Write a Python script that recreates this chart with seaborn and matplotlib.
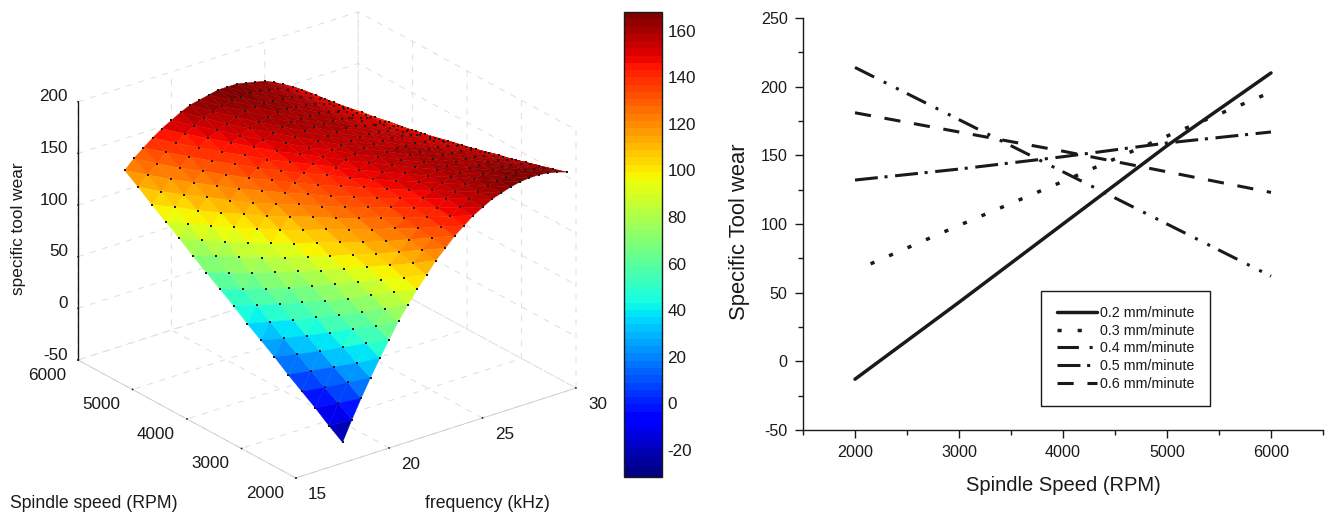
import numpy as np
import pandas as pd
import matplotlib
matplotlib.use("Agg")
import matplotlib.pyplot as plt
import matplotlib.tri as mtri
import seaborn as sns
from matplotlib.cm import ScalarMappable
from matplotlib.colors import Normalize
from mpl_toolkits.mplot3d import proj3d

# surface, one list per frequency, values from 2000 to 6000 RPM
frequency = [17.5, 18, 18.5, 19, 19.5, 20, 20.5, 21, 21.5, 22, 22.5, 23, 23.5,
             24, 24.5, 25, 25.5, 26, 26.5, 27, 27.5, 28, 28.5, 29, 29.5]
spindle = [2000, 2250, 2500, 2750, 3000, 3250, 3500, 3750, 4000,
           4250, 4500, 4750, 5000, 5250, 5500, 5750, 6000]
wear_by_freq = [
    [-30, -21, -11, -2, 7, 17, 26, 35, 45, 54, 63, 72, 82, 91, 100, 110, 119],
    [-11, -2, 6, 15, 24, 32, 41, 50, 58, 67, 76, 84, 93, 102, 110, 119, 128],
    [7, 15, 23, 31, 39, 47, 55, 63, 71, 79, 87, 95, 103, 111, 119, 127, 135],
    [24, 31, 39, 46, 54, 61, 68, 76, 83, 90, 98, 105, 113, 120, 127, 135, 142],
    [40, 47, 54, 60, 67, 74, 81, 87, 94, 101, 108, 114, 121, 128, 135, 141, 148],
    [55, 61, 67, 73, 80, 86, 92, 98, 104, 110, 116, 122, 129, 135, 141, 147, 153],
    [70, 75, 81, 86, 92, 97, 103, 108, 114, 119, 125, 130, 136, 141, 147, 152, 158],
    [83, 88, 93, 98, 103, 108, 113, 118, 123, 127, 132, 137, 142, 147, 152, 157, 162],
    [95, 99, 104, 108, 112, 117, 121, 125, 130, 134, 138, 142, 147, 151, 155, 160, 164],
    [106, 110, 114, 117, 121, 125, 129, 132, 136, 140, 144, 147, 151, 155, 159, 162, 166],
    [117, 120, 123, 127, 130, 133, 136, 139, 143, 146, 149, 152, 155, 158, 162, 165, 168],
    [126, 129, 131, 134, 137, 139, 142, 144, 147, 150, 152, 155, 158, 160, 163, 165, 168],
    [135, 137, 139, 141, 143, 145, 147, 149, 151, 154, 156, 158, 160, 162, 164, 166, 168],
    [142, 144, 145, 147, 148, 150, 151, 153, 154, 156, 157, 159, 160, 162, 163, 165, 166],
    [149, 150, 151, 152, 153, 154, 155, 156, 157, 157, 158, 159, 160, 161, 162, 163, 164],
    [154, 155, 155, 156, 156, 157, 157, 158, 158, 158, 159, 159, 160, 160, 161, 161, 162],
    [159, 159, 159, 159, 159, 159, 159, 159, 158, 158, 158, 158, 158, 158, 158, 158, 158],
    [162, 162, 161, 160, 160, 159, 159, 158, 158, 157, 156, 156, 155, 155, 154, 154, 153],
    [165, 164, 163, 162, 161, 160, 159, 158, 157, 155, 154, 153, 152, 151, 150, 149, 148],
    [167, 165, 164, 162, 161, 159, 158, 156, 155, 153, 151, 150, 148, 147, 145, 144, 142],
    [168, 166, 164, 162, 160, 158, 156, 154, 152, 149, 147, 145, 143, 141, 139, 137, 135],
    [168, 166, 163, 161, 158, 156, 153, 151, 148, 146, 143, 141, 138, 136, 133, 131, 128],
    [167, 164, 161, 158, 155, 152, 149, 146, 143, 140, 137, 134, 131, 128, 125, 122, 119],
    [165, 162, 158, 155, 151, 148, 144, 141, 138, 134, 131, 127, 124, 120, 117, 113, 110],
    [162, 158, 154, 150, 146, 143, 139, 135, 131, 127, 123, 119, 115, 112, 108, 104, 100],
]

# line chart
rpm = [2000, 3000, 4000, 5000, 6000]
wear_02 = [-13, 43, 100, 157, 210]
rpm_03 = [2150, 3000, 4000, 5000, 6000]
wear_03 = [71, 99, 131, 164, 196]
wear_04 = [214, 176, 138, 100, 62]
wear_05 = [132, 140, 149, 159, 167]
wear_06 = [181, 167, 153, 138, 123]

freq_ticks = [15, 20, 25, 30]
rpm_ticks = [2000, 3000, 4000, 5000, 6000]
wear_ticks = [-50, 0, 50, 100, 150, 200]
cbar_ticks = [-20, 0, 20, 40, 60, 80, 100, 120, 140, 160]

sns.set_theme(style="ticks", rc={"text.color": "k", "axes.labelcolor": "k",
                                 "xtick.color": "k", "ytick.color": "k",
                                 "axes.edgecolor": "k", "axes.unicode_minus": False})
plt.rcParams["font.family"] = ["Liberation Sans", "DejaVu Sans"]

W, H = 1333, 517
fig = plt.figure(figsize=(W / 100, H / 100), dpi=100)
jet = plt.get_cmap("jet", 64)
norm = Normalize(-31.6, 168)

# --- 3D surface ---
ax = fig.add_axes([0, 0, 500 / W, 500 / H], projection="3d", computed_zorder=False)
ax.set_proj_type("ortho")
ax.view_init(elev=24.65, azim=-127.6)
ax.set_box_aspect((353.5, 357, 284))
ax.set_xlim(15, 30, view_margin=0)
ax.set_ylim(2000, 6000, view_margin=0)
ax.set_zlim(-50, 200, view_margin=0)

F, R = np.meshgrid(frequency, spindle)
Z = np.array(wear_by_freq).T

# split each grid cell along the colour bands so the facets follow them
nr, nf = F.shape
tris = []
for i in range(nr - 1):
    for j in range(nf - 1):
        a, b = i * nf + j, i * nf + j + 1
        c, d = (i + 1) * nf + j, (i + 1) * nf + j + 1
        tris += [[a, b, c], [b, d, c]]
grid = mtri.Triangulation(F.ravel(), R.ravel(), tris)
surf = ax.plot_trisurf(grid, Z.ravel(), cmap=jet, norm=norm, shade=False,
                       linewidth=0.3, antialiased=True, zorder=3)
surf.set_edgecolor("face")
ax.scatter(F.ravel(), R.ravel(), Z.ravel(), s=1.0, c="k", marker="s", linewidths=0,
           depthshade=False, zorder=4)

ax.set_xticks(freq_ticks)
ax.set_yticks(rpm_ticks)
ax.set_zticks(wear_ticks)
ax.set_xticklabels([])
ax.set_yticklabels([])
ax.set_zticklabels([])
for a in (ax.xaxis, ax.yaxis, ax.zaxis):
    a.set_pane_color((1, 1, 1, 0))
    a.pane.set_edgecolor("none")
    a._axinfo["grid"].update(color="#dedede", linewidth=0.7, linestyle=(0, (6, 7)))
    a._axinfo["tick"].update(inward_factor=0.0, outward_factor=0.012)
ax.xaxis.line.set_color("#cccccc")
ax.yaxis.line.set_color("#cccccc")
ax.xaxis.line.set_linewidth(0.6)
ax.yaxis.line.set_linewidth(0.6)
ax.zaxis.line.set_color("k")
ax.zaxis.line.set_linewidth(1)

# mplot3d resets tick label transforms, so the labels are placed just off the box
for f in freq_ticks:
    ax.text(f, 1600, -55, str(f), fontsize=12.3, ha="center", va="center")
for r in rpm_ticks:
    ax.text(13.35, r, -55, str(r), fontsize=12.3, ha="center", va="center")
for z in wear_ticks:
    ax.text(14.66, 6068, z + 4.8, str(z), fontsize=12.3, ha="right", va="center")


def fit_box(ax, left_px, right_px, floor_y_px):
    # move the 3D axes so that the box corners land where they should
    for _ in range(3):
        ax.apply_aspect()
        xs, ys, _z = proj3d.proj_transform(np.array([15.0, 30.0]), np.array([6000.0, 2000.0]),
                                           np.array([-50.0, -50.0]), ax.get_proj())
        px = ax.transData.transform(np.c_[xs, ys])
        pos = ax.get_position(original=True)
        k = (right_px - left_px) / (px[1, 0] - px[0, 0])
        x0 = pos.x0 * W
        y0 = pos.y0 * H
        w = pos.width * W
        # scale about the axes centre, then shift
        cx, cy = x0 + w / 2, y0 + w / 2
        new_lx = cx + (px[0, 0] - cx) * k
        new_ly = cy + (px[0, 1] - cy) * k
        cx += left_px - new_lx
        cy += (H - floor_y_px) - new_ly
        w *= k
        ax.set_position([(cx - w / 2) / W, (cy - w / 2) / H, w / W, w / H])


fit_box(ax, 78, 576, 360)

fig.text(10 / W, 1 - 503 / H, "Spindle speed (RPM)", fontsize=12.7, va="center")
fig.text(425 / W, 1 - 503 / H, "frequency (kHz)", fontsize=12.7, va="center")
fig.text(19 / W, 1 - 229 / H, "specific tool wear", fontsize=12.4, rotation=90,
         ha="center", va="center")

# --- colour bar ---
cax = fig.add_axes([624 / W, 1 - 477 / H, 38 / W, 465 / H])
cbar = fig.colorbar(ScalarMappable(norm=norm, cmap=jet), cax=cax, ticks=cbar_ticks)
cbar.ax.tick_params(direction="in", left=True, right=True, length=4, width=1,
                    labelsize=12.3, pad=4)
cbar.ax.minorticks_off()
cbar.outline.set_edgecolor("k")
cbar.outline.set_linewidth(1)

# --- line chart ---
ax2 = fig.add_axes([803 / W, 1 - 430 / H, 520 / W, 412 / H])
series = [
    (rpm, wear_02, "0.2 mm/minute", "-", 2.5),
    (rpm_03, wear_03, "0.3 mm/minute", (0, (1.2, 4.6)), 2.5),
    (rpm, wear_04, "0.4 mm/minute", (0, (7, 3.5, 1, 3.5, 1, 3)), 2.2),
    (rpm, wear_05, "0.5 mm/minute", (0, (7.5, 2.2, 1, 2.5)), 2.2),
    (rpm, wear_06, "0.6 mm/minute", (0, (5.3, 4.5)), 2.2),
]
for xs, ys, name, style, lw in series:
    df = pd.DataFrame({"rpm": xs, "wear": ys})
    sns.lineplot(data=df, x="rpm", y="wear", ax=ax2, color="k", linewidth=lw,
                 linestyle=style, label=name, errorbar=None)

ax2.set_xlim(1500, 6500)
ax2.set_ylim(-50, 250)
ax2.set_xticks(rpm_ticks)
ax2.set_xticks([1500, 2500, 3500, 4500, 5500, 6500], minor=True)
ax2.set_yticks([-50, 0, 50, 100, 150, 200, 250])
ax2.set_yticks([-25, 25, 75, 125, 175, 225], minor=True)
ax2.tick_params(which="major", length=6, width=1, labelsize=11.6, pad=5)
ax2.tick_params(which="minor", length=3.5, width=1)
ax2.set_xlabel("Spindle Speed (RPM)", fontsize=14.5, labelpad=11)
ax2.set_ylabel("Specific Tool wear", fontsize=15.8)
ax2.yaxis.set_label_coords(-0.102, 0.482)
for side in ("top", "right"):
    ax2.spines[side].set_visible(False)
for side in ("left", "bottom"):
    ax2.spines[side].set_linewidth(1)

ax2.legend(loc="center", bbox_to_anchor=(0.621, 0.198), fontsize=10.3, frameon=True,
           fancybox=False, framealpha=1, edgecolor="k", handlelength=2.8,
           handletextpad=0.2, labelspacing=0.25, borderpad=1.1, borderaxespad=0)
ax2.get_legend().get_frame().set_linewidth(1)

fig.savefig("out.png", dpi=100)
